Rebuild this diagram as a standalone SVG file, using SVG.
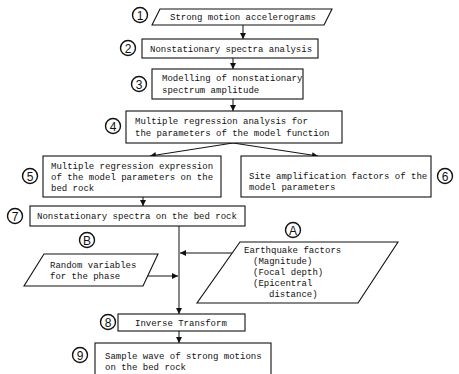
<svg xmlns="http://www.w3.org/2000/svg" width="459" height="374" viewBox="0 0 459 374">
<defs>
<marker id="ah" viewBox="0 0 8 8" refX="8" refY="4" markerWidth="6" markerHeight="6" markerUnits="userSpaceOnUse" orient="auto">
<path d="M0,0 L8,4 L0,8 z" fill="#111"/>
</marker>
</defs>
<style>
.box{fill:#fff;stroke:#111;stroke-width:1.1}
.t{font-family:"Liberation Mono",monospace;font-size:9px;fill:#111}
.num{fill:#fff;stroke:#111;stroke-width:1.4}
.nt{font-family:"Liberation Sans",sans-serif;font-size:12px;fill:#111;text-anchor:middle}
.c{fill:none;stroke:#111;stroke-width:1;marker-end:url(#ah)}
</style>
<rect width="459" height="374" fill="#fff"/>
<g id="connectors">
<line class="c" x1="243" y1="25" x2="243" y2="39"/>
<line class="c" x1="233" y1="58" x2="233" y2="69"/>
<line class="c" x1="233" y1="99" x2="233" y2="111"/>
<line class="c" x1="233" y1="143" x2="150" y2="156"/>
<line class="c" x1="233" y1="143" x2="318" y2="156"/>
<line class="c" x1="143" y1="197" x2="143" y2="206"/>
<line class="c" x1="179" y1="226" x2="179" y2="314"/>
<line class="c" x1="232" y1="253" x2="180" y2="253"/>
<line class="c" x1="142" y1="276" x2="178" y2="276"/>
<line class="c" x1="179" y1="331" x2="179" y2="343"/>
</g>
<g id="n1">
<polygon class="box" points="160,9 332,9 324,25 152,25"/>
<text class="t" x="170" y="20">Strong motion accelerograms</text>
<circle class="num" cx="140" cy="15" r="7.5"/><text class="nt" x="140" y="19.5">1</text>
</g>
<g id="n2">
<rect class="box" x="142" y="39" width="176" height="19"/>
<text class="t" x="150" y="52">Nonstationary spectra analysis</text>
<circle class="num" cx="128" cy="48" r="7.5"/><text class="nt" x="128" y="52.5">2</text>
</g>
<g id="n3">
<rect class="box" x="152" y="69" width="151" height="30"/>
<text class="t" x="162" y="81">Modelling of nonstationary</text>
<text class="t" x="162" y="93">spectrum amplitude</text>
<circle class="num" cx="139" cy="84" r="7.5"/><text class="nt" x="139" y="88.5">3</text>
</g>
<g id="n4">
<rect class="box" x="126" y="111" width="216" height="32"/>
<text class="t" x="135" y="124">Multiple regression analysis for</text>
<text class="t" x="135" y="136">the parameters of the model function</text>
<circle class="num" cx="113" cy="126" r="7.5"/><text class="nt" x="113" y="130.5">4</text>
</g>
<g id="n5">
<rect class="box" x="43" y="156" width="178" height="41"/>
<text class="t" x="51" y="169">Multiple regression expression</text>
<text class="t" x="51" y="180">of the model parameters on the</text>
<text class="t" x="51" y="191">bed rock</text>
<circle class="num" cx="30" cy="176" r="7.5"/><text class="nt" x="30" y="180.5">5</text>
</g>
<g id="n6">
<rect class="box" x="241" y="156" width="190" height="41"/>
<text class="t" x="249" y="179">Site amplification factors of the</text>
<text class="t" x="249" y="190">model parameters</text>
<circle class="num" cx="445" cy="176" r="7.5"/><text class="nt" x="445" y="180.5">6</text>
</g>
<g id="n7">
<rect class="box" x="30" y="206" width="215" height="20"/>
<text class="t" x="37" y="219">Nonstationary spectra on the bed rock</text>
<circle class="num" cx="15" cy="216" r="7.5"/><text class="nt" x="15" y="220.5">7</text>
</g>
<g id="nA">
<polygon class="box" points="240,242 398,242 358,303 197,303"/>
<text class="t" x="244" y="253">Earthquake factors</text>
<text class="t" x="253" y="264">(Magnitude)</text>
<text class="t" x="253" y="275">(Focal depth)</text>
<text class="t" x="253" y="286">(Epicentral</text>
<text class="t" x="269" y="297">distance)</text>
<circle class="num" cx="293" cy="230" r="7.5"/><text class="nt" x="293" y="234.5">A</text>
</g>
<g id="nB">
<polygon class="box" points="44,254 158,254 143,286 24,286"/>
<text class="t" x="50" y="268">Random variables</text>
<text class="t" x="50" y="279">for the phase</text>
<circle class="num" cx="87" cy="240" r="7.5"/><text class="nt" x="87" y="244.5">B</text>
</g>
<g id="n8">
<rect class="box" x="118" y="314" width="127" height="17"/>
<text class="t" x="135" y="326">Inverse Transform</text>
<circle class="num" cx="108" cy="322" r="7.5"/><text class="nt" x="108" y="326.5">8</text>
</g>
<g id="n9">
<rect class="box" x="95" y="343" width="176" height="40"/>
<text class="t" x="105" y="359">Sample wave of strong motions</text>
<text class="t" x="105" y="370">on the bed rock</text>
<circle class="num" cx="80" cy="355" r="7.5"/><text class="nt" x="80" y="359.5">9</text>
</g>
</svg>
